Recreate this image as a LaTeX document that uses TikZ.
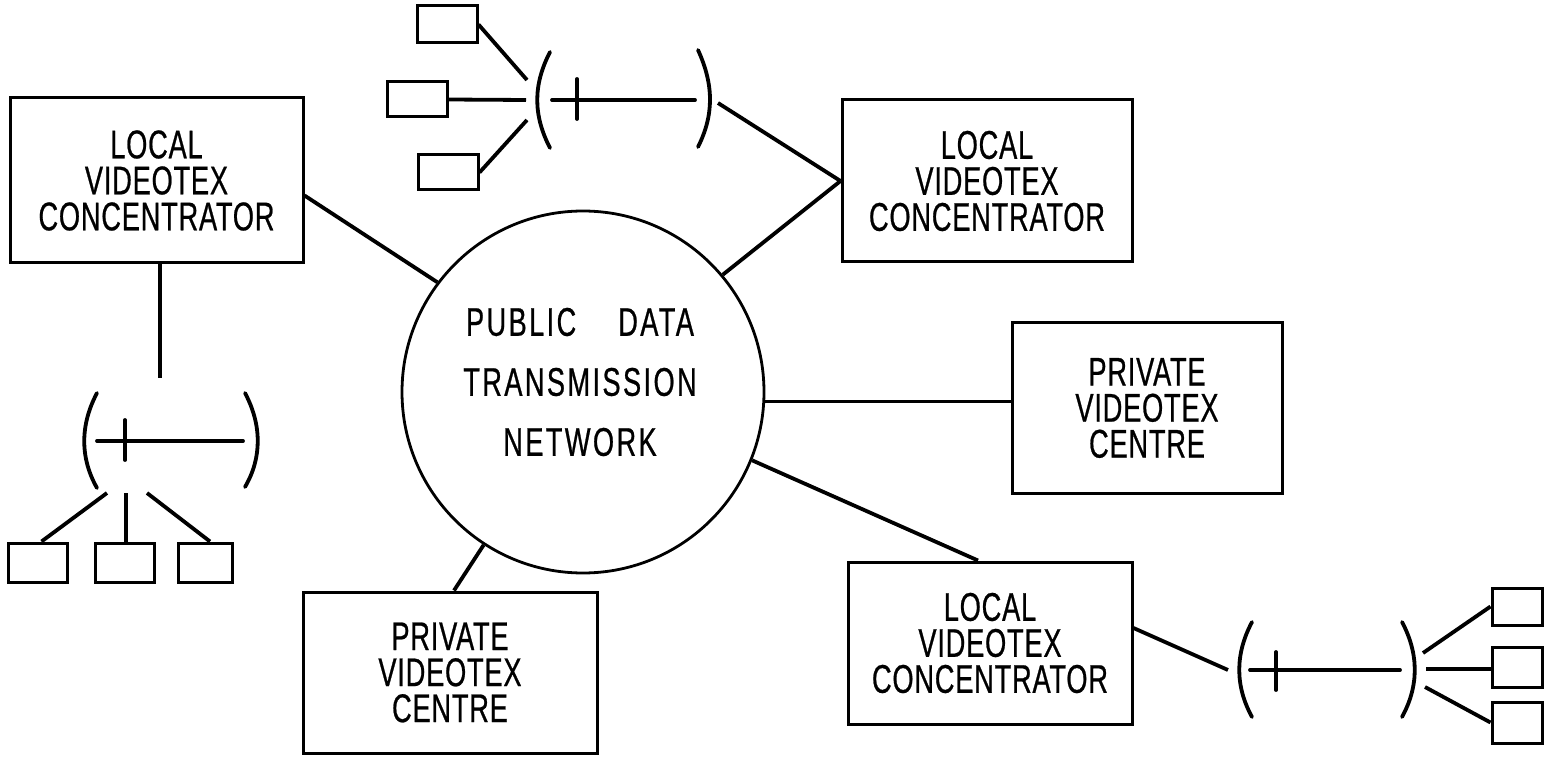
\documentclass[tikz,border=0pt]{standalone}
\usepackage{fontspec}
\setmainfont{Liberation Sans}[FakeStretch=0.68,FakeBold=0.6,LetterSpace=2]
\usetikzlibrary{calc}
\begin{document}
\begin{tikzpicture}[x=1pt,y=-1pt,
  box/.style={draw, line width=3pt, rectangle, inner sep=0pt, align=center, font=\fontsize{40}{36}\selectfont},
  term/.style={draw, line width=3pt, rectangle, inner sep=0pt},
  link/.style={line width=3.8pt},
  lanline/.style={line width=3.8pt, line cap=round}]
\useasboundingbox (0,0) rectangle (1550,759);

% central network
\node[circle, draw, line width=2.8pt, minimum size=362pt, inner sep=0pt] (pdn) at (583,392) {};
\node[align=center, font=\fontsize{40}{60}\selectfont\addfontfeatures{LetterSpace=6}] (pdntext) at (580,382) {PUBLIC\hspace{42pt}DATA\\TRANSMISSION\\NETWORK};

% boxes
\node[box, minimum width=293pt, minimum height=165pt] (lvc1) at (156.5,180.5) {LOCAL\\VIDEOTEX\\CONCENTRATOR};
\node[box, minimum width=290pt, minimum height=162pt] (lvc2) at (987,181) {LOCAL\\VIDEOTEX\\CONCENTRATOR};
\node[box, minimum width=270pt, minimum height=170pt] (pvc1) at (1147,408) {PRIVATE\\VIDEOTEX\\CENTRE};
\node[box, minimum width=294pt, minimum height=161pt] (pvc2) at (450,672.5) {PRIVATE\\VIDEOTEX\\CENTRE};
\node[box, minimum width=284pt, minimum height=162pt] (lvc3) at (990,643) {LOCAL\\VIDEOTEX\\CONCENTRATOR};

% links to network
\draw[link] ($(lvc1.east)+(0,15)$) -- (pdn.143.6);
\draw[link] (pdn.40) -- (lvc2.west);
\draw[link] (pdn.-3) -- (pdn.-3 -| pvc1.west);
\draw[link] (pdn.-22.7) -- ($(lvc3.north)+(-12,0)$);
\draw[link] (pdn.-123) -- ($(pvc2.north)+(4,0)$);

% ---- top local network ----
\draw[lanline] (550,52) .. controls (533,85) and (533,115) .. (550,148);
\draw[lanline] (698,50) .. controls (714,85) and (714,115) .. (698,147);
\draw[lanline] (552,100) -- (695,100);
\draw[lanline] (577,79) -- (577,119);
\coordinate (tlanR) at (718,103);
\coordinate (tlan1) at (527,80);
\coordinate (tlan2) at (526,100);
\coordinate (tlan3) at (527,120);
\node[term, minimum width=60pt, minimum height=37pt] (t1) at (447,24.5) {};
\node[term, minimum width=60pt, minimum height=35pt] (t2) at (417,99.5) {};
\node[term, minimum width=60pt, minimum height=35pt] (t3) at (448,172.5) {};
\draw[link] (tlanR) -- (lvc2.west);
\draw[link] (t1.east) -- (tlan1);
\draw[link] (t2.east) -- (tlan2);
\draw[link] (t3.east) -- (tlan3);

% ---- left local network ----
\draw[lanline] (97,393) .. controls (80,425) and (80,458) .. (97,488);
\draw[lanline] (245,393) .. controls (262,425) and (262,458) .. (245,487);
\draw[lanline] (97,441) -- (243,441);
\draw[lanline] (125,420) -- (125,460);
\coordinate (llanT) at (160,378);
\coordinate (llan1) at (107,493);
\coordinate (llan2) at (126,493);
\coordinate (llan3) at (147,493);
\node[term, minimum width=59pt, minimum height=39pt] (l1) at (37.5,562.5) {};
\node[term, minimum width=59pt, minimum height=39pt] (l2) at (124.5,562.5) {};
\node[term, minimum width=54pt, minimum height=39pt] (l3) at (205,562.5) {};
\draw[link] (lvc1.south -| llanT) -- (llanT);
\draw[link] (llan1) -- ($(l1.north)+(4,0)$);
\draw[link] (llan2) -- (llan2 |- l2.north);
\draw[link] (llan3) -- ($(l3.north)+(5,0)$);

% ---- bottom right local network ----
\draw[lanline] (1252,622) .. controls (1235,654) and (1235,686) .. (1252,717);
\draw[lanline] (1402,622) .. controls (1419,654) and (1419,686) .. (1402,717);
\draw[lanline] (1250,670) -- (1400,670);
\draw[lanline] (1276,652) -- (1276,690);
\coordinate (rlanL) at (1228,670);
\coordinate (rlan1) at (1423,653);
\coordinate (rlan2) at (1426,669);
\coordinate (rlan3) at (1425,687);
\node[term, minimum width=50pt, minimum height=37pt] (r1) at (1517,606.5) {};
\node[term, minimum width=50pt, minimum height=40pt] (r2) at (1517,667) {};
\node[term, minimum width=50pt, minimum height=41pt] (r3) at (1517,722.5) {};
\draw[link] ($(lvc3.east)+(0,-15)$) -- (rlanL);
\draw[link] (rlan1) -- (r1.west);
\draw[link] (rlan2) -- (rlan2 -| r2.west);
\draw[link] (rlan3) -- (r3.west);
\end{tikzpicture}
\end{document}
